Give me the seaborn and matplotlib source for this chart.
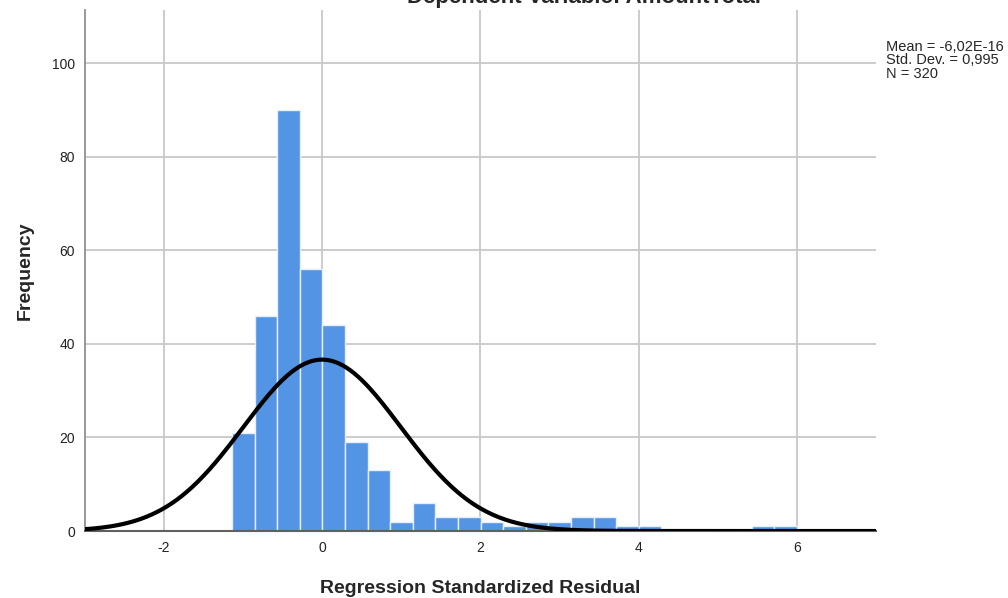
import numpy as np
import pandas as pd
import matplotlib
matplotlib.use("Agg")
import matplotlib.pyplot as plt
import seaborn as sns

# histogram of standardized residuals
bin_start = -1.137
bin_width = 0.2855
counts = [21, 46, 90, 56, 44, 19, 13, 2, 6, 3, 3, 2, 1, 2, 2, 3, 3, 1, 1,
          0, 0, 0, 0, 1, 1]
mean_val = -6.02e-16
sd_val = 0.995
n_val = 320
x_ticks = [-2, 0, 2, 4, 6]
y_ticks = [0, 20, 40, 60, 80, 100]

edges = bin_start + bin_width * np.arange(len(counts) + 1)
centers = (edges[:-1] + edges[1:]) / 2
df = pd.DataFrame({"resid": centers, "n": counts})

# normal curve scaled to counts
xs = np.linspace(-3, 7, 400)
ys = n_val * bin_width / (sd_val * np.sqrt(2 * np.pi)) * np.exp(-0.5 * ((xs - mean_val) / sd_val) ** 2)
curve = pd.DataFrame({"x": xs, "y": ys})

sns.set_style("white")
plt.rcParams["font.family"] = ["Liberation Sans", "DejaVu Sans"]
plt.rcParams["axes.unicode_minus"] = False

fig = plt.figure(figsize=(10.08, 5.98), dpi=100)
ax = fig.add_axes([0.084, 0.112, 0.785, 0.871])

for v in x_ticks:
    ax.axvline(v, color="#c8c8c8", lw=1.3, zorder=0)
for v in y_ticks[1:]:
    ax.axhline(v, color="#c8c8c8", lw=1.3, zorder=0)

sns.histplot(data=df, x="resid", weights="n", bins=edges.tolist(), color="#5394e5",
             edgecolor="#e6eefa", linewidth=1, alpha=1, ax=ax, zorder=2)
sns.lineplot(data=curve, x="x", y="y", color="black", lw=3, ax=ax, zorder=3)

ax.set_xlim(-3, 7)
ax.set_ylim(0, 111.3)
ax.set_xticks(x_ticks)
ax.set_yticks(y_ticks)
ax.tick_params(length=0, labelsize=10, colors="#222222", pad=7)
for s in ["top", "right"]:
    ax.spines[s].set_visible(False)
ax.spines["left"].set_color("#909090")
ax.spines["bottom"].set_color("#606060")
ax.spines["left"].set_linewidth(1.3)
ax.spines["bottom"].set_linewidth(1.5)

ax.set_xlabel("Regression Standardized Residual", fontsize=14, fontweight="bold", labelpad=18)
ax.set_ylabel("Frequency", fontsize=14, fontweight="bold", labelpad=13)

# title is clipped by the top edge in the original export
fig.text(0.579, 0.995, "Dependent Variable: AmountTotal", fontsize=16, fontweight="bold",
         ha="center", va="baseline")
fig.text(0.879, 0.899, "Mean = -6,02E-16\nStd. Dev. = 0,995\nN = 320",
         fontsize=10.5, va="center", ha="left", linespacing=0.95)

fig.savefig("out.png", dpi=100)
